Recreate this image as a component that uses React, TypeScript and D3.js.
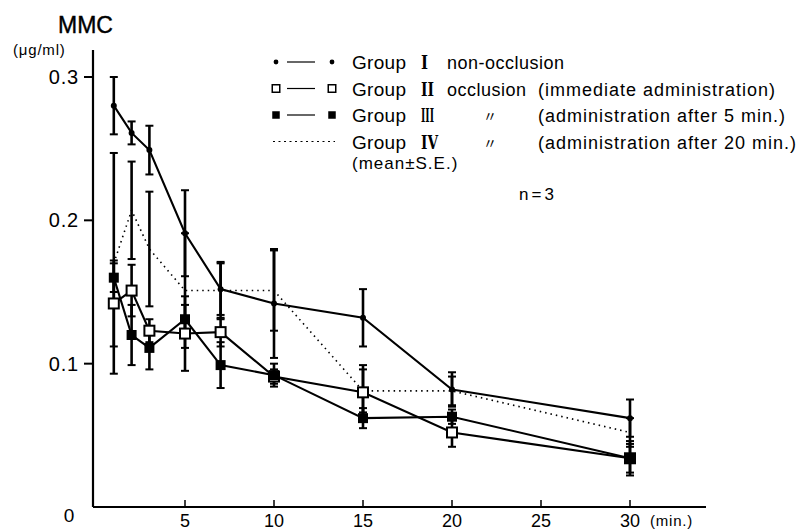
import React from 'react';
import * as d3 from 'd3';

// sampling times (min.)
const times = [1, 2, 3, 5, 7, 10, 15, 20, 30];

// Group I  non-occlusion
const group1Mean = [0.28, 0.261, 0.249, 0.191, 0.152, 0.142, 0.132, 0.082, 0.062];
const group1SE = [0.02, 0.008, 0.017, 0.03, 0.018, 0.038, 0.02, 0.012, 0.013];
// Group II  occlusion (immediate administration)
const group2Mean = [0.142, 0.151, 0.123, 0.121, 0.122, 0.091, 0.08, 0.052, 0.034];
const group2SE = [0.03, 0.018, 0.008, 0.026, 0.01, 0.005, 0.019, 0.01, 0.01];
// Group III  administration after 5 min.
const group3Mean = [0.16, 0.12, 0.111, 0.131, 0.099, 0.092, 0.062, 0.063, 0.034];
const group3SE = [0.01, 0.021, 0.015, 0.01, 0.016, 0.008, 0.007, 0.005, 0.012];
// Group IV  administration after 20 min.
const group4Mean = [0.17, 0.207, 0.18, 0.151, 0.151, 0.151, 0.081, 0.081, 0.052];
const group4SE = [0.077, 0.034, 0.04, 0.04, 0.02, 0.028, 0.015, 0.01, 0.01];

const xTicks = [5, 10, 15, 20, 25, 30];
const yTicks = [0.1, 0.2, 0.3];

const legendRows = [
  { numeral: 'I', desc: 'non-occlusion', note: '', marker: 'dot' },
  { numeral: 'II', desc: 'occlusion', note: '(immediate administration)', marker: 'open' },
  { numeral: 'III', desc: '〃', note: '(administration after 5 min.)', marker: 'filled' },
  { numeral: 'IV', desc: '〃', note: '(administration after 20 min.)', marker: 'none' },
];

const font = '"Liberation Sans", Arial, sans-serif';

export default function App() {
  const width = 797;
  const height = 532;

  const x = d3.scaleLinear().domain([0, 30]).range([96, 630]);
  const y = d3.scaleLinear().domain([0, 0.3]).range([507, 77]);
  const axisX = 93;

  const line = d3
    .line<number>()
    .x((_, i) => x(times[i]))
    .y((d) => y(d));

  const groups = [
    { mean: group1Mean, se: group1SE, marker: 'dot', dashed: false },
    { mean: group2Mean, se: group2SE, marker: 'open', dashed: false },
    { mean: group3Mean, se: group3SE, marker: 'filled', dashed: false },
    { mean: group4Mean, se: group4SE, marker: 'none', dashed: true },
  ];

  const marker = (type: string, cx: number, cy: number, key: string, s = 1) => {
    if (type === 'dot') return <circle key={key} cx={cx} cy={cy} r={3 * s} fill="#000" />;
    if (type === 'open')
      return (
        <rect key={key} x={cx - 5 * s} y={cy - 5 * s} width={10 * s} height={10 * s}
          fill="#fff" stroke="#000" strokeWidth={2 * s} />
      );
    if (type === 'filled')
      return <rect key={key} x={cx - 5 * s} y={cy - 5 * s} width={10 * s} height={10 * s} fill="#000" />;
    return null;
  };

  const numeralWidth: Record<string, number> = { I: 7, II: 13, III: 13, IV: 17 };

  return (
    <svg width={width} height={height} style={{ display: 'block', position: 'absolute', left: 0, top: 0 }}
      fontFamily={font}>
      <rect width={width} height={height} fill="#fff" />

      {/* axes */}
      <line x1={axisX} x2={axisX} y1={50} y2={507} stroke="#000" strokeWidth={2.2} />
      <line x1={axisX} x2={706} y1={507} y2={507} stroke="#000" strokeWidth={2.2} />
      {yTicks.map((t) => (
        <g key={'yt' + t}>
          <line x1={axisX - 9} x2={axisX} y1={y(t)} y2={y(t)} stroke="#000" strokeWidth={2} />
          <text x={79} y={y(t) + 7} fontSize={20} letterSpacing={0.8} textAnchor="end">{t.toFixed(1)}</text>
        </g>
      ))}
      <text x={69} y={522} fontSize={19} textAnchor="middle">0</text>
      {xTicks.map((t) => (
        <g key={'xt' + t}>
          <line x1={x(t)} x2={x(t)} y1={500} y2={507} stroke="#000" strokeWidth={1.5} />
          <text x={x(t)} y={527} fontSize={18} textAnchor="middle">{t}</text>
        </g>
      ))}
      <text x={650} y={526} fontSize={15} letterSpacing={0.8}>(min.)</text>
      <text x={58} y={33} fontSize={23} stroke="#000" strokeWidth={0.4}>MMC</text>
      <text x={13} y={55} fontSize={15} letterSpacing={0.8}>(μg/ml)</text>

      {/* error bars */}
      {groups.map((g, gi) =>
        g.mean.map((m, i) => {
          const cx = x(times[i]);
          const top = y(m + g.se[i]);
          const bot = y(m - g.se[i]);
          return (
            <g key={`e${gi}-${i}`} stroke="#000" strokeWidth={2.6}>
              <line x1={cx} x2={cx} y1={top} y2={bot} />
              <line x1={cx - 4} x2={cx + 4} y1={top} y2={top} strokeWidth={2} />
              <line x1={cx - 4} x2={cx + 4} y1={bot} y2={bot} strokeWidth={2} />
            </g>
          );
        })
      )}

      {/* lines */}
      {groups.map((g, gi) => (
        <path key={'l' + gi} d={line(g.mean) || ''} fill="none" stroke="#000"
          strokeWidth={g.dashed ? 1.6 : 2.1}
          strokeDasharray={g.dashed ? '1.5 4' : undefined} />
      ))}

      {/* markers */}
      {groups.map((g, gi) => g.mean.map((m, i) => marker(g.marker, x(times[i]), y(m), `m${gi}-${i}`)))}

      {/* legend */}
      {legendRows.map((r, i) => {
        const ly = 62 + i * 26.5;
        return (
          <g key={'lg' + i}>
            {r.marker === 'none' ? (
              <line x1={273} x2={335} y1={ly} y2={ly} stroke="#000" strokeWidth={1.2} strokeDasharray="2 3.5" />
            ) : (
              <g>
                {marker(r.marker, 276, ly, 'a', r.marker === 'dot' ? 0.8 : 0.75)}
                <line x1={287} x2={315} y1={ly} y2={ly} stroke="#000" strokeWidth={1.2} />
                {marker(r.marker, 332, ly, 'b', r.marker === 'dot' ? 0.8 : 0.75)}
              </g>
            )}
            <text x={352} y={ly + 7} fontSize={19} letterSpacing={0.3}>Group</text>
            <text x={421} y={ly + 7} fontSize={18} fontWeight="bold" fontFamily='"DejaVu Serif", serif'
              textLength={numeralWidth[r.numeral]} lengthAdjust="spacingAndGlyphs">{r.numeral}</text>
            {r.desc === '〃' ? (
              <text x={483} y={ly + 6} fontSize={14} fontFamily='"Noto Sans CJK JP"'>{r.desc}</text>
            ) : (
              <text x={447} y={ly + 7} fontSize={18} letterSpacing={0.5}>{r.desc}</text>
            )}
            {r.note && <text x={538} y={ly + 7} fontSize={18} letterSpacing={1}>{r.note}</text>}
          </g>
        );
      })}
      <text x={352} y={169} fontSize={17} letterSpacing={1}>(mean±S.E.)</text>
      <text x={519} y={200} fontSize={17} letterSpacing={3}>n=3</text>
    </svg>
  );
}
